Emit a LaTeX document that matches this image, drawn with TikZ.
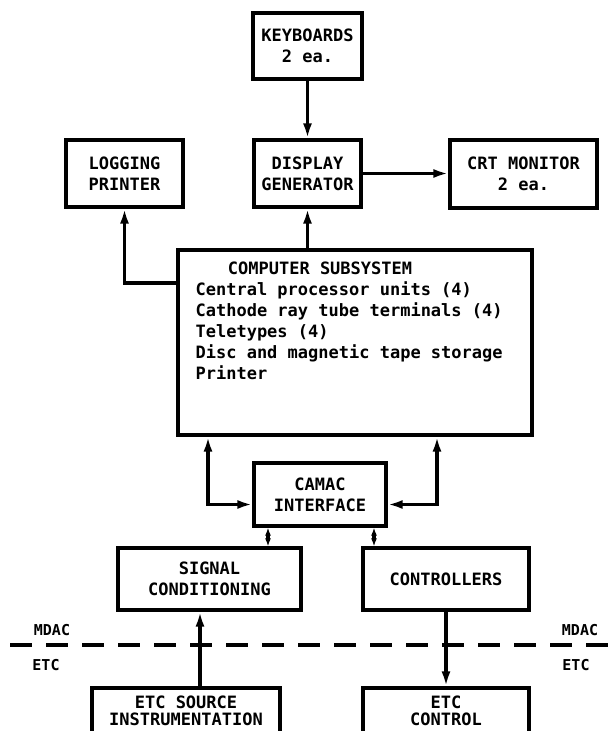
\documentclass[tikz,border=0pt]{standalone}
\usepackage{fontspec}
\setmonofont{DejaVu Sans Mono}
\usetikzlibrary{arrows.meta, positioning, calc}
\tikzset{
	unit/.style     ={rectangle, draw=black, line width=3.2pt, align=center, inner sep=2pt},
	sig/.style      ={-{Latex[length=15pt, width=9pt]}, line width=3.2pt},
	dblsig/.style   ={{Latex[length=15pt, width=9pt]}-{Latex[length=15pt, width=9pt]}, line width=3.2pt},
	shortsig/.style ={{Latex[length=8pt, width=6pt]}-{Latex[length=8pt, width=6pt]}, line width=3.2pt},
	border/.style   ={dash pattern=on 22pt off 14pt, line width=3.2pt},
	side/.style     ={inner sep=0pt, font=\ttfamily\bfseries\fontsize{15}{17}\selectfont},
}

\begin{document}
\begin{tikzpicture}[x=1pt, y=-1pt, every node/.style={font=\ttfamily\bfseries\fontsize{17}{21}\selectfont}]
	\clip (0,0) rectangle (609,731);
	% top row
	\node[unit, minimum width=109pt, minimum height=66pt] (kbd) at (307.5,46) {KEYBOARDS\\2 ea.};
	\node[unit, minimum width=107pt, minimum height=67pt] (disp) at (307.5,173.5) {DISPLAY\\GENERATOR};
	\node[unit, minimum width=117pt, minimum height=67pt] (logp) at (124.5,173.5) {LOGGING\\PRINTER};
	\node[unit, minimum width=147pt, minimum height=68pt] (crt) at (523.5,174) {CRT MONITOR\\2 ea.};
	% computer
	\node[unit, minimum width=354pt, minimum height=185pt] (comp) at (355,342.5) {};
	\node[anchor=north west, align=left, inner sep=0pt] (comptxt) at ([xshift=19pt, yshift=-13pt]comp.north west)
		{\hspace*{1.9em}COMPUTER SUBSYSTEM\\Central processor units (4)\\Cathode ray tube terminals (4)\\Teletypes (4)\\Disc and magnetic tape storage\\Printer};
	% interface and lower row
	\node[unit, minimum width=132pt, minimum height=63pt] (camac) at (320,494.5) {CAMAC\\INTERFACE};
	\node[unit, minimum width=183pt, minimum height=62pt] (sigc) at (209.5,579) {SIGNAL\\CONDITIONING};
	\node[unit, minimum width=166pt, minimum height=62pt] (ctrl) at (446,579) {CONTROLLERS};
	\node[unit, minimum width=188pt, minimum height=46pt, font=\ttfamily\bfseries\fontsize{17}{17}\selectfont] (etcs) at (186,711) {ETC SOURCE\\INSTRUMENTATION};
	\node[unit, minimum width=166pt, minimum height=46pt, font=\ttfamily\bfseries\fontsize{17}{17}\selectfont] (etcc) at (446,711) {ETC\\CONTROL};
	% MDAC / ETC boundary
	\coordinate (bl) at (10,645);
	\coordinate (br) at (609,645);
	\draw[border] (bl) -- (br);
	\node[side] (mdacl) at (52,630) {MDAC};
	\node[side] (etcl) at (46,665) {ETC};
	\node[side] (mdacr) at (580,630) {MDAC};
	\node[side] (etcr) at (576,665) {ETC};
	% connectors
	\draw[sig] (kbd) -- (disp);
	\draw[sig] (disp.south |- comp.north) -- (disp.south);
	\draw[sig] (disp.east) -- (crt.west |- disp.east);
	\draw[sig] ([yshift=59.5pt]comp.west) -| (logp.south);
	\draw[dblsig] ([yshift=-10pt]camac.west) -| ([xshift=-147pt]comp.south);
	\draw[dblsig] ([yshift=-10pt]camac.east) -| ([xshift=82pt]comp.south);
	\draw[shortsig] ([xshift=-52pt]camac.south) -- ([xshift=-52pt]camac.south |- sigc.north);
	\draw[shortsig] ([xshift=54pt]camac.south) -- ([xshift=54pt]camac.south |- ctrl.north);
	\draw[sig] ([xshift=14pt]etcs.north) -- ([xshift=14pt]etcs.north |- sigc.south);
	\draw[sig] (ctrl.south) -- (etcc.north);
\end{tikzpicture}
\end{document}
